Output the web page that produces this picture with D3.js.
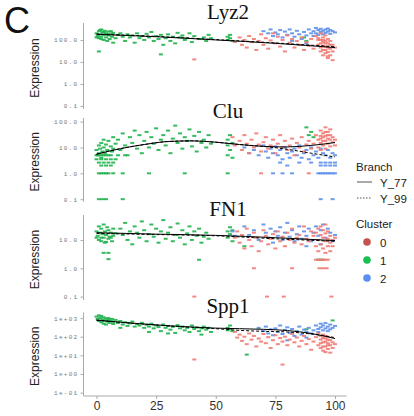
<!DOCTYPE html>
<html><head><meta charset="utf-8">
<script src="https://cdn.jsdelivr.net/npm/d3@7"></script>
<style>body{margin:0;background:#fff}svg{display:block}</style>
</head><body><svg id="c" width="414" height="416"></svg>
<script>
// ---------- DATA ----------
const genes = ["Lyz2", "Clu", "FN1", "Spp1"];
const clusters = ["0", "1", "2"];
const branches = ["Y_77", "Y_99"];
const xTicks = [0, 25, 50, 75, 100];
const yTicksLyz2 = [0.1, 1, 10, 100];
const yLabelsLyz2 = ["0.1", "1.0", "10.0", "100.0"];
const yTicksClu = [0.1, 1, 10, 100];
const yLabelsClu = ["0.1", "1.0", "10.0", "100.0"];
const yTicksFN1 = [0.1, 1, 10];
const yLabelsFN1 = ["0.1", "1.0", "10.0"];
const yTicksSpp1 = [0.1, 1, 10, 100, 1000];
const yLabelsSpp1 = ["1e-01", "1e+00", "1e+01", "1e+02", "1e+03"];

// [pseudotime, expression]
const lyz2_c1 = [[0,200],[0.5,150],[1,250],[1,120],[1.5,180],[2,300],[2,140],[2.5,220],[3,100],[3,170],[3.5,260],[4,130],[4,200],[4.5,90],[5,160],[5,240],[5.5,110],[6,190],[6.5,140],[7,75],[7,210],[8,120],[0,130],[1.5,280],[3,230],[4.5,180],[6,250],[2,110],[1,30],[9,170],[10,200],[11,140],[12,90],[13,180],[14,130],[15,160],[16,75],[17,200],[18,120],[19,150],[20,100],[21,190],[22,130],[23,230],[24,90],[25,150],[26,110],[27,22],[27,170],[28,60],[29,120],[30,180],[31,90],[32,140],[33,70],[34,210],[35,130],[36,160],[37,100],[38,120],[39,200],[40,80],[41,150],[43,110],[45,130],[46,90],[47,170],[48,120],[55,140],[55,100],[56,170],[57,90],[56,120],[87,130],[88,90]];
const lyz2_c0 = [[58,80],[60,130],[61,60],[62,100],[63,45],[64,150],[65,80],[66,110],[67,35],[68,90],[69,180],[70,60],[71,120],[72,40],[73,95],[74,200],[75,70],[76,140],[77,50],[78,100],[79,30],[80,160],[81,75],[82,110],[83,45],[84,90],[85,60],[86,130],[87,35],[88,80],[89,55],[90,110],[91,40],[92,150],[93,100],[93,60],[94,200],[94,30],[95,130],[95,80],[95,20],[96,160],[96,50],[96,25],[97,110],[97,70],[97,15],[98,90],[98,40],[98,20],[99,60],[99,30],[99,12],[100,45],[41,13],[94,45],[95,35],[96,90],[97,45],[93,120],[94,70],[95,55],[96,35],[97,28],[98,60],[96,70],[95,100],[97,18],[94,100]];
const lyz2_c2 = [[70,250],[72,200],[73,300],[74,150],[75,220],[76,180],[77,280],[78,130],[79,240],[80,170],[81,300],[82,200],[83,140],[84,260],[85,180],[86,110],[87,230],[88,160],[89,300],[90,200],[91,250],[91,150],[92,350],[92,200],[93,280],[93,170],[94,320],[94,230],[95,260],[95,180],[96,300],[96,210],[97,240],[97,330],[98,190],[98,280],[99,250],[100,220],[88,70],[82,90]];

const clu_c1 = [[0,8],[0.5,5],[1,12],[1,6],[1.5,9],[2,15],[2,4],[2.5,7],[3,10],[3,20],[3.5,6],[4,13],[4.5,8],[5,18],[5,5],[6,11],[6.5,7],[7,25],[7,9],[8,14],[0,5],[1,5],[2,5],[3,5],[4,5],[6,5],[9,5],[12,5],[0,3.5],[2,3.5],[4,3.5],[6,3.5],[8,3.5],[1,2.6],[3,2.6],[5,2.6],[7,2.6],[2,2],[4,2],[6,2],[1,1],[2,1],[3,1],[4,1],[5,1],[7,1],[11,1],[22,1],[37,1],[55,1],[1,0.1],[2.5,0.1],[4,0.1],[11,0.1],[9,20],[10,8],[11,35],[12,12],[13,5],[14,25],[15,15],[16,45],[17,9],[18,30],[19,6],[20,18],[21,40],[22,10],[23,25],[24,14],[25,55],[26,8],[27,20],[28,30],[29,12],[30,45],[31,6],[32,22],[33,70],[34,15],[35,35],[36,9],[37,25],[38,18],[39,50],[40,11],[41,28],[42,7],[43,40],[44,15],[45,20],[46,10],[47,30],[48,14],[55,12],[55,20],[56,8],[56,30],[57,15],[55,5],[57,4],[88,60],[90,40],[89,30],[91,25]];
const clu_c0 = [[57,25],[58,12],[60,18],[61,8],[62,30],[63,14],[64,6],[65,20],[66,10],[67,35],[68,13],[69,7],[69,1],[70,16],[71,25],[72,9],[73,12],[74,20],[75,6],[76,14],[77,30],[78,10],[79,18],[80,8],[81,12],[82,22],[83,5],[84,15],[85,10],[86,25],[87,7],[88,13],[89,1],[89,18],[90,9],[91,14],[92,30],[93,20],[93,10],[94,45],[94,15],[94,8],[95,35],[95,25],[95,12],[96,60],[96,18],[96,9],[97,40],[97,22],[97,14],[98,30],[98,11],[99,25],[99,16],[100,20],[100,12],[94,28],[96,28],[98,50],[95,18],[97,30],[96,40],[94,22],[98,20]];
const clu_c2 = [[62,10],[64,6],[66,8],[68,5],[70,12],[71,7],[72,4],[73,9],[74,6],[75,11],[76,5],[77,8],[78,3.5],[79,10],[80,6],[81,4],[82,7],[83,9],[84,5],[85,12],[86,4],[87,6],[88,8],[89,3.5],[90,10],[91,5],[92,7],[93,4],[94,9],[95,6],[96,5],[97,8],[98,4],[99,6],[100,5],[74,1],[78,1],[82,1],[93,1],[94,1],[95,1],[96,1],[97,1],[98,1],[99,1],[100,1],[77,2.6],[85,2.6],[90,2.6],[94,2.6],[96,2.6],[98,2.6],[100,2.6],[80,2],[94,2],[96,2],[98,2],[100,2],[94,0.1],[99,0.1]];

const fn1_c1 = [[0,20],[0.5,14],[1,30],[1,10],[1.5,18],[2,25],[2,9],[2.5,16],[3,35],[3,12],[3.5,20],[4,8.5],[4,15],[4.5,28],[5,11],[5,22],[5.5,13],[6,18],[6.5,9],[7,25],[7,14],[8,17],[0,12],[2,12],[6,12],[3.5,8],[3,3.5],[5,3.5],[5,2.1],[10,25],[11,15],[12,40],[13,10],[14,20],[15,7],[16,30],[17,18],[18,12],[19,45],[20,22],[21,9],[22,16],[23,35],[24,13],[25,25],[26,8],[27,20],[28,50],[29,11],[30,18],[31,28],[32,9],[33,15],[34,38],[35,12],[36,22],[37,7],[38,17],[39,30],[40,10],[41,20],[42,14],[43,25],[43,2],[44,8],[45,13],[46,18],[47,11],[55,20],[55,12],[56,28],[56,16],[57,9],[57,22],[62,6],[93,2],[94,2],[95,2]];
const fn1_c0 = [[58,12],[59,20],[60,8],[61,15],[62,5],[63,25],[64,10],[65,6],[66,18],[67,12],[68,4],[69,9],[70,22],[71,14],[72,7],[73,11],[74,16],[75,5],[76,20],[77,9],[78,13],[79,6],[80,18],[81,10],[82,25],[83,8],[84,12],[85,15],[86,7],[87,30],[88,11],[89,9],[90,20],[91,14],[92,6],[92,18],[93,25],[93,10],[93,4],[94,30],[94,15],[94,7],[95,22],[95,12],[95,5],[96,35],[96,17],[96,9],[96,3.5],[97,20],[97,11],[97,6],[98,14],[98,8],[98,4],[99,10],[99,6],[100,12],[92,2],[93,2],[94,2],[95,2],[96,2],[97,2],[66,1],[82,1],[93.5,1],[95,1],[96.5,1],[41,0.1],[71.5,0.1],[78.5,0.1],[98.5,0.1]];
const fn1_c2 = [[57,20],[58,14],[62,30],[64,15],[66,22],[68,10],[70,35],[71,18],[72,12],[73,25],[74,8],[75,20],[76,14],[77,28],[78,10],[79,18],[80,40],[81,13],[82,22],[83,9],[84,16],[85,30],[86,11],[87,20],[88,14],[89,25],[90,9],[91,18],[92,30],[93,14],[94,22],[95,35],[96,12],[97,25],[98,18],[99,9],[100,15],[88,6],[94,7]];

const spp1_c1 = [[0,1200],[0.5,900],[1,1400],[1,700],[1.5,1000],[2,1300],[2,600],[2.5,850],[3,1100],[3,500],[3.5,750],[4,950],[4,450],[4.5,650],[5,800],[5,1000],[5.5,550],[6,700],[6.5,900],[7,480],[7,650],[8,800],[9,550],[10,700],[10,300],[11,450],[12,600],[13,380],[14,520],[15,650],[16,350],[17,480],[18,400],[19,560],[20,300],[21,440],[22,350],[22,180],[23,500],[24,280],[25,400],[26,330],[27,200],[28,450],[29,300],[30,380],[30,150],[31,240],[32,340],[33,160],[34,420],[35,280],[36,350],[37,220],[38,300],[39,180],[40,400],[41,260],[42,320],[43,200],[44,280],[44,130],[45,350],[46,240],[47,300],[48,180],[55,300],[55,220],[56,400],[56,260],[57,200],[63,11],[88,250],[99,750]];
const spp1_c0 = [[58,180],[59,90],[60,130],[61,60],[62,100],[63,40],[64,150],[65,70],[66,110],[67,30],[68,80],[69,55],[70,140],[71,45],[72,95],[73,25],[74,65],[75,120],[76,40],[77,85],[78,3.2],[78,55],[79,100],[80,35],[81,70],[82,140],[83,50],[84,90],[85,30],[86,60],[87,110],[88,40],[89,75],[90,20],[91,55],[92,95],[93,35],[93,150],[94,70],[94,25],[94,110],[95,50],[95,18],[95,130],[96,80],[96,30],[96,15],[97,100],[97,45],[97,22],[98,65],[98,35],[98,14],[99,50],[99,25],[100,40],[41,6],[94,45],[95,85],[96,55],[97,70],[95,30],[97,35],[96,110]];
const spp1_c2 = [[68,300],[70,200],[71,350],[72,150],[73,250],[74,120],[75,280],[76,180],[77,400],[78,140],[79,230],[80,320],[81,160],[82,260],[83,110],[84,200],[85,350],[86,130],[87,240],[88,180],[89,300],[90,150],[91,220],[92,400],[93,260],[93,180],[94,500],[94,320],[95,220],[95,400],[96,280],[96,540],[97,350],[97,200],[98,450],[98,250],[99,300],[100,380],[88,90],[80,64]];

// fitted trends per branch: [pseudotime, expression]
const lyz2_Y77 = [[0,180],[25,140],[50,100],[75,70],[100,45]];
const lyz2_Y99 = [[0,185],[25,145],[50,104],[75,73],[100,49]];
const clu_Y77 = [[0,5.5],[10,9],[20,13],[30,17],[40,18],[50,16],[60,13],[70,11],[80,10.5],[90,12],[100,15.5]];
const clu_Y99 = [[0,5.5],[10,9],[20,13],[30,17],[40,18],[50,16],[60,13],[70,11],[80,8.5],[90,6],[100,4.3]];
const fn1_Y77 = [[0,18],[25,16],[50,14.5],[75,12],[100,9.5]];
const fn1_Y99 = [[0,17],[25,15.5],[50,14],[75,11],[100,9]];
const spp1_Y77 = [[0,780],[10,600],[20,480],[30,390],[40,330],[50,290],[60,270],[70,250],[80,215],[90,150],[100,80]];
const spp1_Y99 = [[0,760],[10,590],[20,470],[30,380],[40,320],[50,270],[60,220],[70,195],[80,180],[90,140],[100,90]];

// ---------- LAYOUT ----------
const pointColors = {"0": "#ef7b74", "1": "#1fb34d", "2": "#5d8fe8"};
const legendColors = {"0": "#c2534e", "1": "#1bbf52", "2": "#5b8ff0"};
const panels = [
  {gene: "Lyz2", top: 23, bottom: 109, lo: -1.14, hi: 2.77, ticks: yTicksLyz2, labels: yLabelsLyz2, titleY: 19,
   pts: {"1": lyz2_c1, "0": lyz2_c0, "2": lyz2_c2}, fit: {"Y_77": lyz2_Y77, "Y_99": lyz2_Y99}},
  {gene: "Clu", top: 118, bottom: 201.5, lo: -1.09, hi: 2.14, ticks: yTicksClu, labels: yLabelsClu, titleY: 118,
   pts: {"1": clu_c1, "0": clu_c0, "2": clu_c2}, fit: {"Y_77": clu_Y77, "Y_99": clu_Y99}},
  {gene: "FN1", top: 215, bottom: 300, lo: -1.12, hi: 1.88, ticks: yTicksFN1, labels: yLabelsFN1, titleY: 216,
   pts: {"1": fn1_c1, "0": fn1_c0, "2": fn1_c2}, fit: {"Y_77": fn1_Y77, "Y_99": fn1_Y99}},
  {gene: "Spp1", top: 312.5, bottom: 396, lo: -1.18, hi: 3.3, ticks: yTicksSpp1, labels: yLabelsSpp1, titleY: 313,
   pts: {"1": spp1_c1, "0": spp1_c0, "2": spp1_c2}, fit: {"Y_77": spp1_Y77, "Y_99": spp1_Y99}}
];

const svg = d3.select("#c");
const axisX = 83.5, axisRight = 346.5;
const x = d3.scaleLinear().domain([0, 100]).range([96.5, 335]);

svg.append("text").attr("x", 4).attr("y", 33).attr("font-family", "Liberation Sans, Arial, sans-serif")
  .attr("font-size", 36).attr("fill", "#111").text("C");

panels.forEach(p => {
  const y = d3.scaleLog().domain([Math.pow(10, p.lo), Math.pow(10, p.hi)]).range([p.bottom, p.top]);
  const g = svg.append("g");
  const ax = d3.axisLeft(y).tickValues(p.ticks).tickFormat((d, i) => p.labels[i]).tickSize(3).tickPadding(2);
  const ag = g.append("g").attr("transform", `translate(${axisX},0)`).call(ax);
  ag.select(".domain").attr("stroke", "#aaa").attr("d", `M-0,${p.top}V${p.bottom}`);
  ag.selectAll(".tick line").attr("stroke", "#aaa");
  ag.selectAll(".tick text").attr("font-family", "Liberation Mono, monospace").attr("font-size", 6)
    .attr("letter-spacing", 1.3).attr("fill", "#777");
  g.append("text").attr("transform", `translate(39,${(p.top + p.bottom) / 2 + 2}) rotate(-90)`)
    .attr("text-anchor", "middle").attr("font-family", "Liberation Sans, Arial, sans-serif")
    .attr("font-size", 12).attr("fill", "#222").text("Expression");
  ["1", "2", "0"].forEach(c => {
    g.append("g").selectAll("rect").data(p.pts[c]).join("rect")
      .attr("x", d => x(d[0]) - 2).attr("y", d => y(d[1]) - 1)
      .attr("width", 4).attr("height", 2).attr("fill", pointColors[c]).attr("opacity", 0.9);
  });
  const line = d3.line().x(d => x(d[0])).y(d => y(d[1])).curve(d3.curveMonotoneX);
  g.append("path").attr("d", line(p.fit["Y_77"])).attr("fill", "none").attr("stroke", "#000").attr("stroke-width", 1);
  g.append("path").attr("d", line(p.fit["Y_99"])).attr("fill", "none").attr("stroke", "#000").attr("stroke-width", 1)
    .attr("stroke-dasharray", "3,2");
  g.append("text").attr("x", 228).attr("y", p.titleY).attr("text-anchor", "middle")
    .attr("font-family", "Liberation Serif, Times New Roman, serif").attr("font-size", 21).attr("fill", "#111").text(p.gene);
});

const xa = svg.append("g").attr("transform", "translate(0,396)").call(d3.axisBottom(x).tickValues(xTicks).tickSize(3).tickPadding(2));
xa.select(".domain").attr("stroke", "#aaa").attr("d", `M${axisX},0H${axisRight}`);
xa.selectAll(".tick line").attr("stroke", "#aaa");
xa.selectAll(".tick text").attr("font-family", "Liberation Sans, Arial, sans-serif").attr("font-size", 12).attr("fill", "#333");

const lg = svg.append("g").attr("font-family", "Liberation Sans, Arial, sans-serif").attr("font-size", 11.5).attr("fill", "#222");
lg.append("text").attr("x", 356).attr("y", 171).text("Branch");
branches.forEach((b, i) => {
  const yy = 182 + i * 16;
  lg.append("line").attr("x1", 357).attr("x2", 372).attr("y1", yy).attr("y2", yy)
    .attr("stroke", "#555").attr("stroke-width", 1).attr("stroke-dasharray", i ? "1.5,1.5" : null);
  lg.append("text").attr("x", 380).attr("y", yy + 4.5).text(b);
});
lg.append("text").attr("x", 356).attr("y", 228).text("Cluster");
clusters.forEach((c, i) => {
  const yy = 242 + i * 18;
  lg.append("circle").attr("cx", 367).attr("cy", yy).attr("r", 3.8).attr("fill", legendColors[c]);
  lg.append("text").attr("x", 380).attr("y", yy + 4.5).text(c);
});
</script></body></html>
